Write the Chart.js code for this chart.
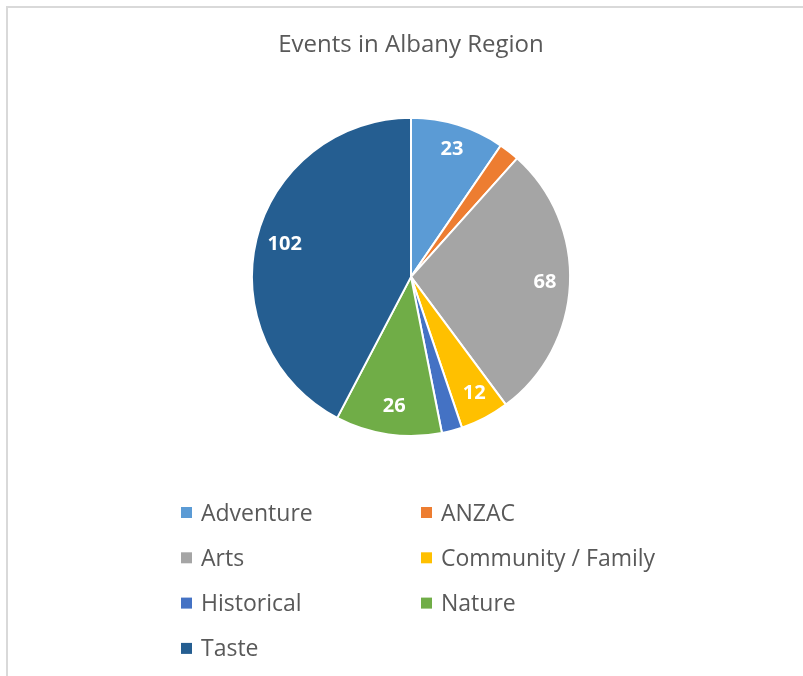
<!DOCTYPE html>
<html>
<head>
<meta charset="utf-8">
<script src="https://cdn.jsdelivr.net/npm/chart.js@4"></script>
<style>
  html, body { margin: 0; padding: 0; background: #fff; }
  #wrap { width: 803px; height: 676px; }
</style>
</head>
<body>
<div id="wrap"><canvas id="eventschart" width="803" height="676"></canvas></div>
<script>
var categories = ['Adventure', 'ANZAC', 'Arts', 'Community / Family', 'Historical', 'Nature', 'Taste'];
var eventCounts = [23, 5, 68, 12, 5, 26, 102];
var sliceColors = ['#5B9BD5', '#ED7D31', '#A5A5A5', '#FFC000', '#4472C4', '#70AD47', '#255E91'];
var chartTitle = 'Events in Albany Region';

var fontFamily = '"Open Sans", Lato, sans-serif';
var textColor = '#595959';

// frame line along the top and left of the picture
var framePlugin = {
	id: 'frame',
	beforeDraw: function (chart) {
		var ctx = chart.ctx;
		ctx.save();
		ctx.strokeStyle = '#d9d9d9';
		ctx.lineWidth = 2;
		ctx.beginPath();
		ctx.moveTo(7, chart.height);
		ctx.lineTo(7, 7);
		ctx.lineTo(chart.width, 7);
		ctx.stroke();
		ctx.restore();
	}
};

// value labels inside the slices
var sliceLabels = {
	id: 'sliceLabels',
	afterDatasetsDraw: function (chart) {
		var ctx = chart.ctx;
		var meta = chart.getDatasetMeta(0);
		ctx.save();
		ctx.fillStyle = '#ffffff';
		ctx.font = 'bold 20px ' + fontFamily;
		ctx.textAlign = 'center';
		ctx.textBaseline = 'middle';
		meta.data.forEach(function (arc, i) {
			var v = chart.data.datasets[0].data[i];
			if (v < 10) return; // too thin for a label
			var mid = (arc.startAngle + arc.endAngle) / 2;
			var r = arc.outerRadius * 0.83;
			ctx.fillText(v, arc.x + Math.cos(mid) * r + 2, arc.y + Math.sin(mid) * r - 1);
		});
		ctx.restore();
	}
};

// two column legend under the pie
var gridLegend = {
	id: 'gridLegend',
	afterDraw: function (chart) {
		var ctx = chart.ctx;
		var labels = chart.data.labels;
		var colors = chart.data.datasets[0].backgroundColor;
		var colX = [181, 421];
		var rowY = 512, rowGap = 45.3;
		ctx.save();
		ctx.font = '23px ' + fontFamily;
		ctx.textBaseline = 'middle';
		ctx.textAlign = 'left';
		for (let i = 0; i < labels.length; i++) {
			let x = colX[i % 2];
			let y = rowY + Math.floor(i / 2) * rowGap;
			ctx.fillStyle = colors[i];
			ctx.fillRect(x, y - 5, 11, 11);
			ctx.fillStyle = textColor;
			ctx.fillText(labels[i], x + 20, y + 2);
		}
		ctx.restore();
	}
};

var ctx = document.getElementById('eventschart').getContext('2d');
var eventsChart = new Chart(ctx, {
	type: 'pie',
	data: {
		labels: categories,
		datasets: [{
			data: eventCounts,
			backgroundColor: sliceColors,
			borderColor: '#ffffff',
			borderWidth: 2
		}]
	},
	options: {
		responsive: false,
		animation: false,
		layout: {
			padding: { left: 19, right: 0, top: 0, bottom: 239 }
		},
		plugins: {
			legend: { display: false },
			tooltip: { enabled: false },
			title: {
				display: true,
				text: chartTitle,
				color: textColor,
				font: { family: fontFamily, size: 24, weight: 'normal' },
				padding: { top: 31, bottom: 57 }
			}
		}
	},
	plugins: [framePlugin, sliceLabels, gridLegend]
});
</script>
</body>
</html>
